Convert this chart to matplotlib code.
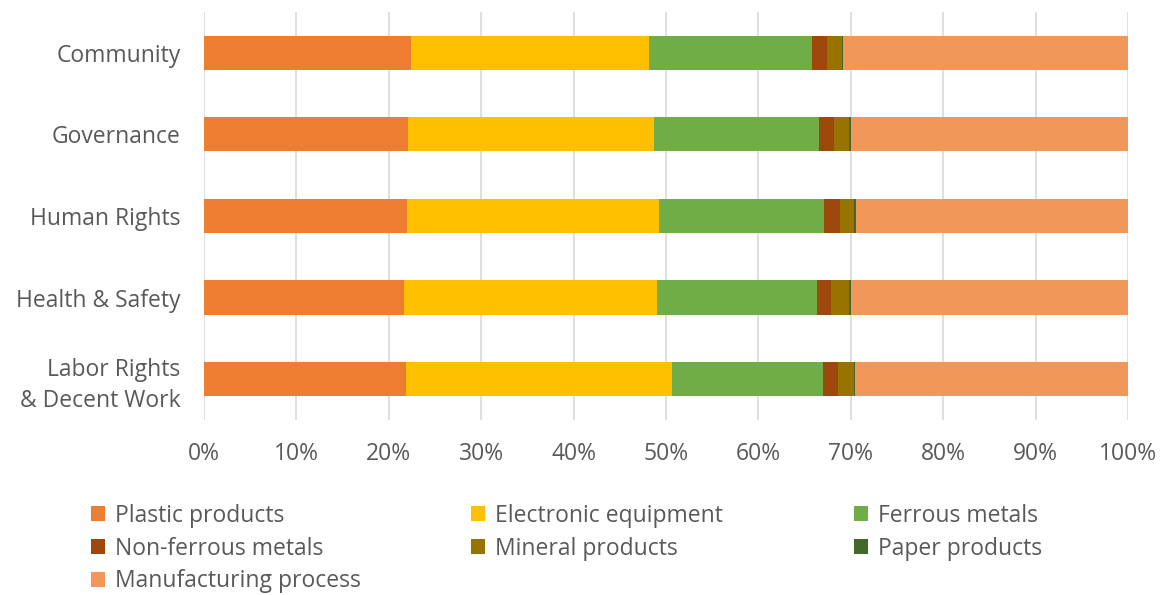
import matplotlib.pyplot as plt
import numpy as np
from matplotlib.patches import Patch

plt.rcParams['font.family'] = ['Open Sans', 'DejaVu Sans']

categories = ["Community", "Governance", "Human Rights", "Health & Safety",
              "Labor Rights\n& Decent Work"]

# share of each source per impact category (%)
plastic = [22.4, 22.1, 22.0, 21.6, 21.9]
electronic = [25.8, 26.6, 27.2, 27.4, 28.7]
ferrous = [17.6, 17.9, 17.9, 17.3, 16.4]
non_ferrous = [1.6, 1.6, 1.7, 1.6, 1.6]
mineral = [1.6, 1.6, 1.5, 1.9, 1.7]
paper = [0.2, 0.2, 0.3, 0.2, 0.2]
manufacturing = [30.8, 30.0, 29.4, 30.0, 29.5]

series = [
    ("Plastic products", plastic, "#ED7D31"),
    ("Electronic equipment", electronic, "#FFC000"),
    ("Ferrous metals", ferrous, "#70AD47"),
    ("Non-ferrous metals", non_ferrous, "#9E480E"),
    ("Mineral products", mineral, "#997300"),
    ("Paper products", paper, "#43682B"),
    ("Manufacturing process", manufacturing, "#F1975A"),
]

grey = "#595959"
fs = 16.5

fig = plt.figure(figsize=(11.68, 5.95), dpi=100)
ax = fig.add_axes([0.1747, 0.294, 0.7911, 0.686])

y = np.arange(len(categories))
left = np.zeros(len(categories))
handles = {}
for name, vals, col in series:
    vals = np.array(vals)
    ax.barh(y, vals, left=left, height=0.42, color=col, zorder=3)
    handles[name] = Patch(facecolor=col, label=name)
    left += vals

ax.set_xlim(0, 100)
ax.set_ylim(len(categories) - 0.5, -0.5)
ax.set_yticks(y)
ax.set_yticklabels(categories, fontsize=fs, color=grey, linespacing=1.4)
ax.set_xticks(np.arange(0, 101, 10))
ax.set_xticklabels([f"{v}%" for v in range(0, 101, 10)], fontsize=fs, color=grey)
ax.tick_params(length=0)
ax.tick_params(axis='y', pad=17)
ax.tick_params(axis='x', pad=16)
ax.grid(axis='x', color="#D9D9D9", linewidth=1.2, zorder=0)
for s in ax.spines.values():
    s.set_visible(False)

# one legend per column so the columns sit on a fixed grid
columns = [
    (0.078, ["Plastic products", "Non-ferrous metals", "Manufacturing process"]),
    (0.403, ["Electronic equipment", "Mineral products"]),
    (0.731, ["Ferrous metals", "Paper products"]),
]
for x0, names in columns:
    leg = fig.legend(handles=[handles[k] for k in names], loc="upper left",
                     bbox_to_anchor=(x0, 0.153), frameon=False, fontsize=fs,
                     handlelength=0.62, handleheight=0.62, handletextpad=0.42,
                     labelspacing=0.38, borderpad=0, borderaxespad=0)
    for t in leg.get_texts():
        t.set_color(grey)

fig.savefig("out.png", dpi=100)
